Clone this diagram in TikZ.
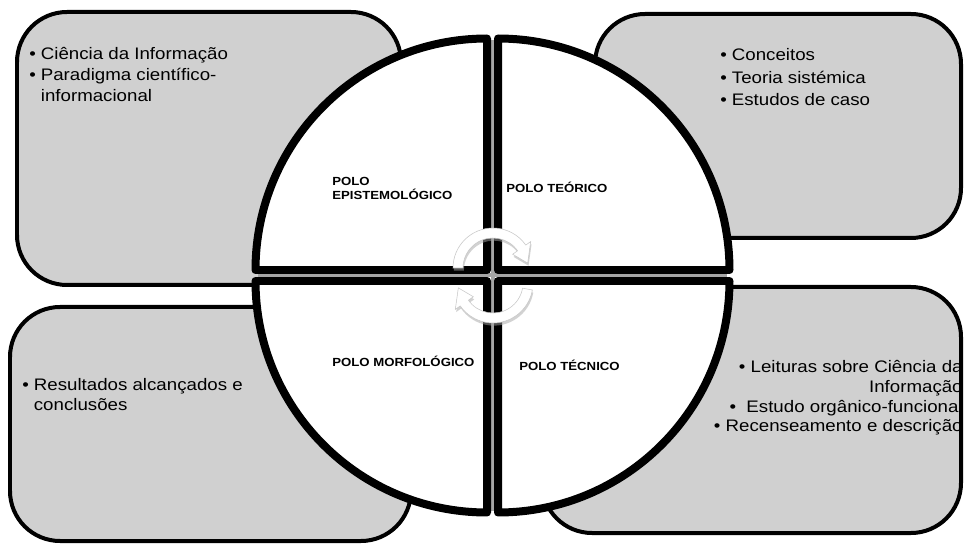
\documentclass[tikz,border=0pt]{standalone}
\usepackage{fontspec}
\setmainfont{Liberation Sans}
\newfontfamily\listfont[FakeStretch=1.12]{Liberation Sans}
\usetikzlibrary{shadows}
\definecolor{boxgray}{RGB}{208, 208, 208}
\definecolor{gapgray}{RGB}{165, 165, 165}

\begin{document}
\begin{tikzpicture}[x=0.02cm, y=-0.02cm,
  panel/.style={fill=boxgray, draw=black, line width=0.08cm, rounded corners=1cm},
  quarter/.style={fill=white, draw=black, line width=0.16cm, line join=round},
  pole/.style={font=\listfont\bfseries\fontsize{6.7}{8}\selectfont, inner sep=0, anchor=base west, align=left},
  items/.style={font=\listfont\fontsize{9.5}{#1}\selectfont, inner sep=0, anchor=base west},
  roundarrow/.style={fill=white, draw=gray!45, line width=0.3pt,
    drop shadow={shadow xshift=0.5pt, shadow yshift=-1.5pt, fill=black!35, opacity=0.5}}]
  \useasboundingbox (0, 0) rectangle (965, 544);

  % the four boxes
  \draw[panel] (17, 12) rectangle (401, 285);
  \draw[panel] (595, 14) rectangle (961, 238);
  \draw[panel] (10, 307) rectangle (411, 541);
  \draw[panel] (542, 287) rectangle (961, 533);

  % circle in four quarters
  \draw[gapgray, line width=0.08cm] (492.5, 40) -- (492.5, 511);
  \draw[gapgray, line width=0.08cm] (258, 275.5) -- (727, 275.5);
  \draw[quarter] (487, 270) -- ++(-231.5, 0) arc[start angle=180, end angle=270, radius=231.5] -- cycle;
  \draw[quarter] (498, 270) -- ++(0, -231.5) arc[start angle=270, end angle=360, radius=231.5] -- cycle;
  \draw[quarter] (498, 281) -- ++(231.5, 0) arc[start angle=0, end angle=90, radius=231.5] -- cycle;
  \draw[quarter] (487, 281) -- ++(0, 231.5) arc[start angle=90, end angle=180, radius=231.5] -- cycle;

  \node[pole] (epist) at (332, 200) {POLO\\EPISTEMOLÓGICO};
  \node[pole] (teor) at (506, 193) {POLO TEÓRICO};
  \node[pole] (morf) at (332, 367) {POLO MORFOLÓGICO};
  \node[pole] (tecn) at (519, 371) {POLO TÉCNICO};

  % texts of the boxes
  \node[items=11.7pt] (epistlist) at (29, 60) {\begin{tabular}[t]{@{}l@{\hspace{0.1cm}}l@{}}
    \textbullet & Ciência da Informação\\
    \textbullet & Paradigma científico-\\
    & informacional\end{tabular}};
  \node[items=12.8pt] (teorlist) at (720, 61) {\begin{tabular}[t]{@{}l@{\hspace{0.1cm}}l@{}}
    \textbullet & Conceitos\\
    \textbullet & Teoria sistémica\\
    \textbullet & Estudos de caso\end{tabular}};
  \node[items=11.1pt] (morflist) at (22, 391) {\begin{tabular}[t]{@{}l@{\hspace{0.1cm}}l@{}}
    \textbullet & Resultados alcançados e\\
    & conclusões\end{tabular}};
  \node[items=11.2pt, anchor=base east, align=right] (tecnlist) at (963, 432)
    {\textbullet{} Leituras sobre Ciência da\\Informação\\
     \textbullet{}\ \ Estudo orgânico-funcional\\
     \textbullet{} Recenseamento e descrição};

  % turning arrows in the middle
  \coordinate (upper) at (493, 268);
  \coordinate (lower) at (493, 283);
  \filldraw[roundarrow] ([shift={(180:40)}]upper) arc[start angle=180, end angle=325, radius=40]
    -- ([shift={(325:46)}]upper) -- ([shift={(352:35)}]upper) -- ([shift={(325:24)}]upper)
    -- ([shift={(325:30)}]upper) arc[start angle=325, end angle=180, radius=30] -- cycle;
  \filldraw[roundarrow] ([shift={(10:40)}]lower) arc[start angle=10, end angle=145, radius=40]
    -- ([shift={(145:46)}]lower) -- ([shift={(172:35)}]lower) -- ([shift={(145:24)}]lower)
    -- ([shift={(145:30)}]lower) arc[start angle=145, end angle=10, radius=30] -- cycle;
\end{tikzpicture}
\end{document}
